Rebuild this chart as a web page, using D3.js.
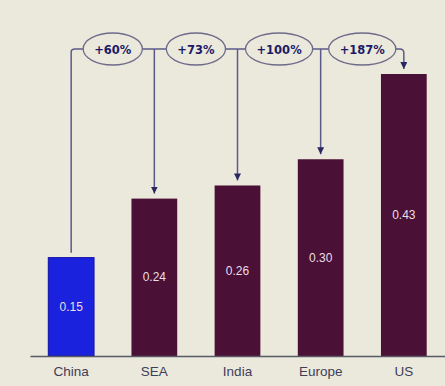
<!DOCTYPE html>
<html><head><meta charset="utf-8">
<script src="https://cdn.jsdelivr.net/npm/d3@7"></script>
<style>html,body{margin:0;padding:0;background:#ebe8dc;}</style>
</head><body>
<svg id="c" width="445" height="386"></svg>
<script>
const categories = ["China", "SEA", "India", "Europe", "US"];
const values = [0.15, 0.24, 0.26, 0.30, 0.43];
const valueLabels = ["0.15", "0.24", "0.26", "0.30", "0.43"];
const growthLabels = ["+60%", "+73%", "+100%", "+187%"];
const barColors = ["#1a22de", "#4b1035", "#4b1035", "#4b1035", "#4b1035"];

const svg = d3.select("#c");
const W = 445, H = 386;
svg.append("rect").attr("width", W).attr("height", H).attr("fill", "#ebe8dc");

const x = d3.scaleBand().domain(categories).range([30, 445]).paddingInner(0.45).paddingOuter(0.22);
const y = d3.scaleLinear().domain([0, 0.43]).range([356, 74]);

// bars
svg.selectAll("rect.bar").data(values).enter().append("rect")
  .attr("class", "bar")
  .attr("x", (d, i) => x(categories[i]))
  .attr("width", x.bandwidth())
  .attr("y", d => y(d))
  .attr("height", d => y(0) - y(d))
  .attr("fill", (d, i) => barColors[i])
  .attr("stroke", (d, i) => i === 0 ? "#1010a8" : "none")
  .attr("stroke-width", 1);

// value labels
svg.selectAll("text.val").data(values).enter().append("text")
  .attr("x", (d, i) => x(categories[i]) + x.bandwidth() / 2)
  .attr("y", d => (y(d) + y(0)) / 2 + 4)
  .attr("text-anchor", "middle")
  .attr("font-family", "Liberation Sans, Arial, sans-serif")
  .attr("font-size", 12)
  .attr("fill", "#eadfe6")
  .text((d, i) => valueLabels[i]);

// axis baseline
const xAxis = d3.axisBottom(x).tickSize(0).tickPadding(10);
const ax = svg.append("g").attr("transform", `translate(0,${y(0)})`).call(xAxis);
ax.select(".domain").attr("stroke", "#5a5a66").attr("stroke-width", 1.5);
ax.selectAll("text").attr("font-family", "Liberation Sans, Arial, sans-serif")
  .attr("font-size", 13.5).attr("fill", "#3e3e58");

// connectors
const lineY = 49;
const lc = "#5c5a88";
const defs = svg.append("defs");
defs.append("marker").attr("id", "arr").attr("viewBox", "0 0 10 10")
  .attr("refX", 10).attr("refY", 5).attr("markerWidth", 7).attr("markerHeight", 7)
  .attr("markerUnits", "userSpaceOnUse").attr("orient", "auto")
  .append("path").attr("d", "M0,0L10,5L0,10Z").attr("fill", "#2a2860");

const cx = i => x(categories[i]) + x.bandwidth() / 2;
const g = svg.append("g");
// China riser
g.append("path")
  .attr("d", `M${cx(0)},${y(values[0]) - 5}L${cx(0)},${lineY + 3}Q${cx(0)},${lineY} ${cx(0) + 4},${lineY}L${cx(4) - 4},${lineY}Q${cx(4)},${lineY} ${cx(4)},${lineY + 4}L${cx(4)},${y(values[4]) - 5}`)
  .attr("fill", "none").attr("stroke", lc).attr("stroke-width", 1.5)
  .attr("marker-end", "url(#arr)");
// drop lines
for (let i = 1; i < 4; i++) {
  g.append("line").attr("x1", cx(i)).attr("x2", cx(i))
    .attr("y1", lineY).attr("y2", y(values[i]) - 5)
    .attr("stroke", lc).attr("stroke-width", 1.5)
    .attr("marker-end", "url(#arr)");
}
// ellipses with growth labels
growthLabels.forEach((t, i) => {
  const mx = (cx(i) + cx(i + 1)) / 2;
  const gg = svg.append("g");
  const el = gg.append("ellipse").attr("cx", mx).attr("cy", lineY)
    .attr("ry", 16).attr("fill", "#ebe8dc").attr("stroke", "#6d6b8a").attr("stroke-width", 1.3);
  const tx = gg.append("text").attr("x", mx).attr("y", lineY + 4.5)
    .attr("text-anchor", "middle")
    .attr("font-family", "DejaVu Sans, Verdana, sans-serif")
    .attr("font-weight", "bold").attr("font-size", 11.5)
    .attr("fill", "#1c1a66").text(t);
  const w = tx.node().getComputedTextLength();
  el.attr("rx", w / 2 + 11);
});
</script>
</body></html>
